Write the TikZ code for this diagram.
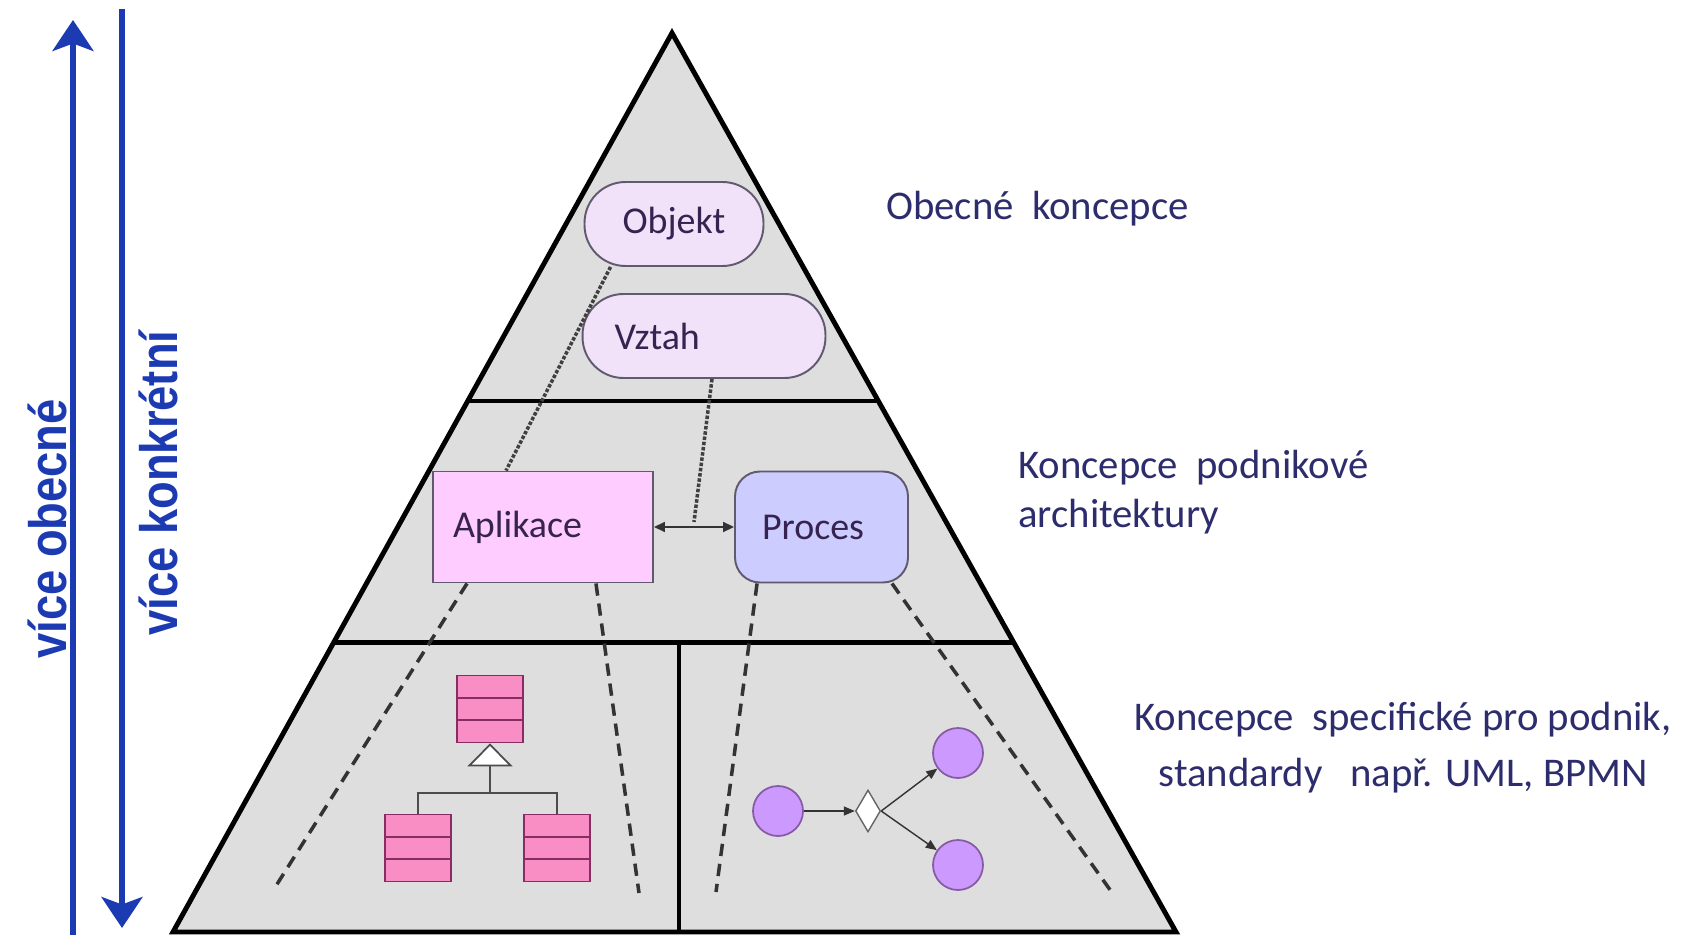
\documentclass[tikz,border=0pt]{standalone}
\usepackage{fontspec}
\setmainfont{Carlito}
\newfontfamily\scalefont[FakeStretch=0.86]{Liberation Sans}
\usetikzlibrary{arrows.meta,shapes.geometric,calc}

\definecolor{pyrgray}{RGB}{222,222,222}
\definecolor{scaleblue}{RGB}{28,58,178}
\definecolor{sidenavy}{RGB}{45,45,110}
\definecolor{boxtxt}{RGB}{55,35,80}
\definecolor{boxline}{RGB}{95,90,110}
\definecolor{lavfill}{RGB}{241,226,250}
\definecolor{appfill}{RGB}{255,204,255}
\definecolor{procfill}{RGB}{204,204,255}
\definecolor{clsfill}{RGB}{248,142,196}
\definecolor{clsline}{RGB}{135,45,100}
\definecolor{evfill}{RGB}{204,153,255}
\definecolor{evline}{RGB}{135,90,165}

\tikzset{
  divline/.style={line width=2.4pt},
  concept/.style={draw=boxline, line width=1.1pt, text=boxtxt, font=\fontsize{21.6}{26}\selectfont},
  pill/.style={concept, fill=lavfill, rounded corners=0.82cm, minimum height=1.68cm},
  appbox/.style={concept, fill=appfill, minimum width=4.4cm, minimum height=2.22cm,
    text width=3.6cm, inner xsep=0.4cm, align=left},
  procbox/.style={concept, fill=procfill, rounded corners=0.5cm, minimum width=3.46cm,
    minimum height=2.22cm, text width=2.38cm, inner xsep=0.54cm, align=left},
  umlclass/.style={draw=clsline, fill=clsfill, line width=1pt, inner sep=0pt,
    minimum width=1.32cm, minimum height=1.34cm,
    path picture={\draw[clsline, line width=1pt]
      ([yshift=-0.447cm]path picture bounding box.north west) -- ([yshift=-0.447cm]path picture bounding box.north east)
      ([yshift=0.447cm]path picture bounding box.south west) -- ([yshift=0.447cm]path picture bounding box.south east);}},
  bpmnevent/.style={circle, draw=evline, fill=evfill, line width=1pt, minimum size=1cm, inner sep=0pt},
  bpmngate/.style={diamond, draw=black!60, fill=white, line width=0.8pt, minimum width=0.5cm,
    minimum height=0.84cm, inner sep=0pt},
  dotlink/.style={densely dotted, line width=2pt, black!75},
  dashlink/.style={line width=2pt, dash pattern=on 7pt off 4.5pt, black!80},
  flowarrow/.style={black!80, line width=0.8pt, -{Triangle[length=0.22cm,width=0.18cm]}},
  scalearrow/.style={scaleblue, line width=3.2pt, -{Stealth[length=0.62cm,width=0.82cm,inset=0.15cm]}},
  scaletext/.style={text=scaleblue, font=\scalefont\bfseries\fontsize{30}{34}\selectfont},
  sidetext/.style={text=sidenavy, font=\fontsize{23.2}{27.5}\selectfont}
}

\begin{document}
\begin{tikzpicture}[x=0.02cm, y=-0.02cm]
\useasboundingbox (0,0) rectangle (1699,935);

% pyramid
\coordinate (apex) at (672,33);
\coordinate (bl) at (173,932);
\coordinate (br) at (1176,932);
\fill[pyrgray] (apex) -- (bl) -- (br) -- cycle;
\draw[divline] ($(apex)!0.409!(bl)$) -- ($(apex)!0.409!(br)$);
\draw[divline] ($(apex)!0.678!(bl)$) -- ($(apex)!0.678!(br)$);
\draw[divline] (679,643) -- (679,932);
\draw[line width=2.8pt] (apex) -- (bl) -- (br) -- cycle;

% general concepts
\node[pill, minimum width=3.58cm] (obj) at (674,224) {Objekt};
\node[pill, minimum width=4.86cm, text width=3.58cm, inner xsep=0.64cm, align=left] (vz) at (704,336) {Vztah};

% enterprise architecture concepts
\node[appbox] (app) at (543,527) {Aplikace};
\node[procbox] (proc) at (821.5,527) {Proces};
\draw[black!80, line width=0.9pt, {Triangle[length=0.22cm,width=0.2cm]}-{Triangle[length=0.22cm,width=0.2cm]}]
  (app.east) -- coordinate (lnk) (proc.west);
\draw[dotlink] ([xshift=0.54cm]obj.south west) -- ([xshift=1.48cm]app.north west);
\draw[dotlink] ([xshift=0.16cm]vz.south) -- ([yshift=0.1cm]lnk);

% specific concepts: UML
\node[umlclass] (cls1) at (490,709) {};
\node[umlclass] (cls2) at (418,848) {};
\node[umlclass] (cls3) at (557,848) {};
\coordinate (genpt) at (490,793);
\draw[black!70, line width=1pt] (cls2.north) |- (genpt) -| (cls3.north);
\draw[black!70, line width=1pt, -{Triangle[open, fill=white, length=0.46cm, width=0.9cm]}] (genpt) -- (cls1.south);

% specific concepts: BPMN
\node[bpmnevent] (ev1) at (778,811) {};
\node[bpmngate] (gw) at (868,811) {};
\node[bpmnevent] (ev2) at (958,753) {};
\node[bpmnevent] (ev3) at (958,865) {};
\draw[flowarrow] (ev1) -- (gw);
\draw[flowarrow] (gw.east) -- (ev2);
\draw[flowarrow] (gw.east) -- (ev3);

% mapping lines
\coordinate (d1) at (274,889);
\coordinate (d2) at (639,893);
\coordinate (d3) at (716,892);
\coordinate (d4) at (1113,894);
\draw[dashlink] ([xshift=0.7cm]app.south west) -- (d1);
\draw[dashlink] ([xshift=-1.16cm]app.south east) -- (d2);
\draw[dashlink] ([xshift=0.46cm]proc.south west) -- (d3);
\draw[dashlink] ([xshift=-0.34cm]proc.south east) -- (d4);

% side scale
\coordinate (upfrom) at (73,935);
\coordinate (upto) at (73,20);
\coordinate (downfrom) at (122,9);
\coordinate (downto) at (122,928);
\draw[scalearrow] (upfrom) -- (upto);
\draw[scalearrow] (downfrom) -- (downto);
\node[scaletext, rotate=90] (lblgen) at (47,529) {více obecné};
\node[scaletext, rotate=90] (lblconc) at (158,483) {více konkrétní};

% level texts
\node[sidetext, anchor=west] (txt1) at (880,209) {Obecné\ \ koncepce};
\node[sidetext, anchor=west, align=left] (txt2) at (1012,492) {Koncepce\ \ podnikové\\architektury};
\node[sidetext, align=center, font=\fontsize{23.2}{32}\selectfont] (txt3) at (1403,748)
  {Koncepce\ \ specifické pro podnik,\\standardy\ \ \ např. UML, BPMN};
\end{tikzpicture}
\end{document}
